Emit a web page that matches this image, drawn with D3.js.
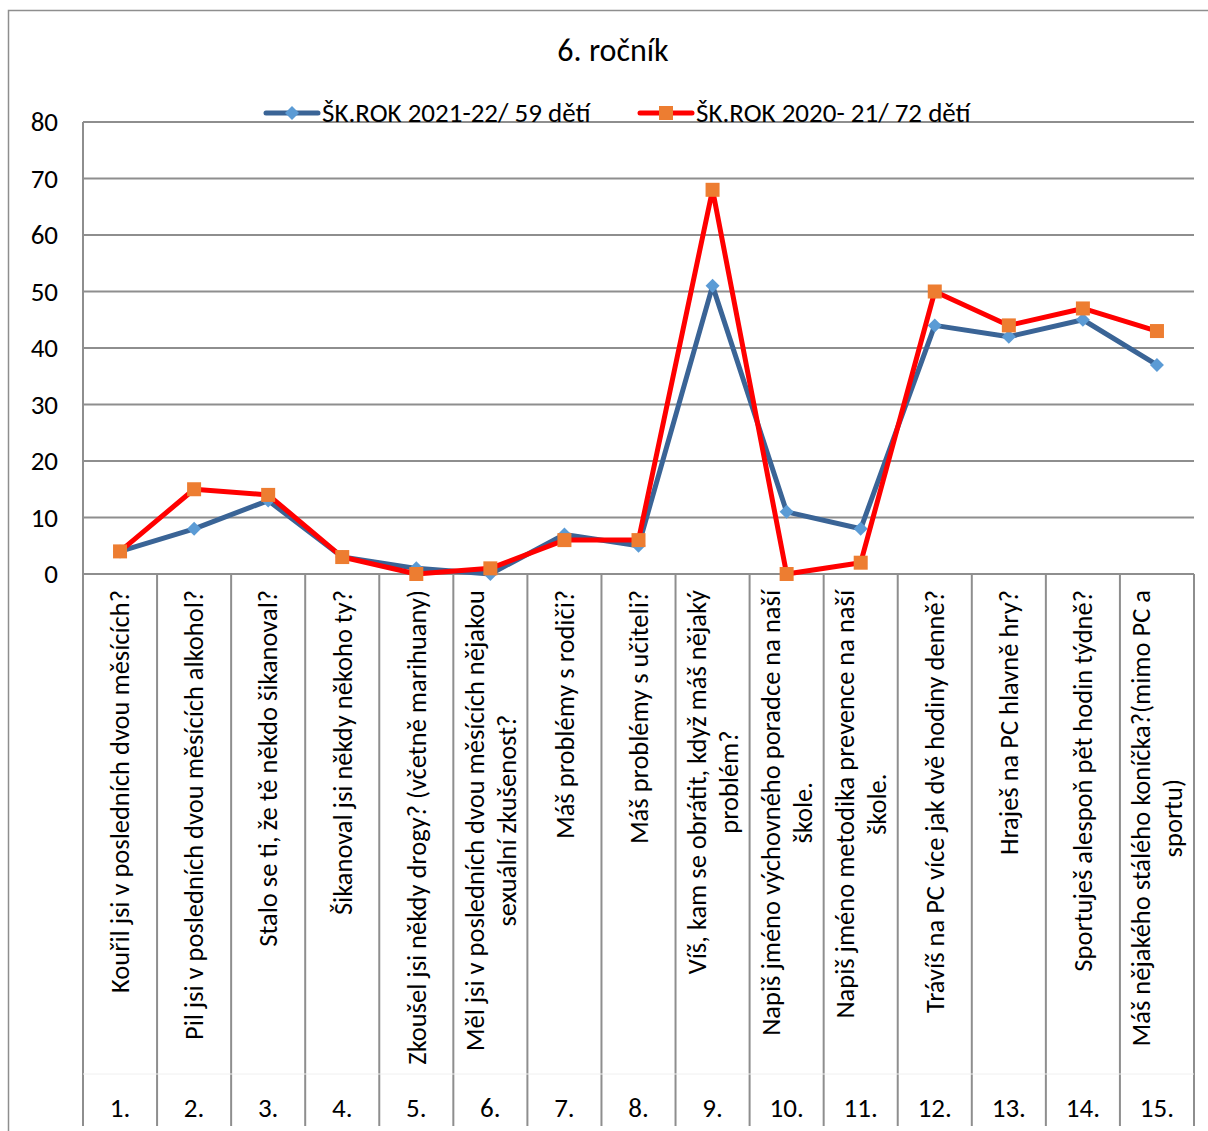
<!DOCTYPE html>
<html>
<head>
<meta charset="utf-8">
<script src="https://cdn.jsdelivr.net/npm/d3@7"></script>
<style>
  body { margin: 0; background: #fff; }
  svg { display: block; font-family: Carlito, Lato, "Open Sans", sans-serif; }
</style>
</head>
<body>
<svg id="chart" width="1208" height="1131"></svg>
<script>
// data
const questions = [
  ["Kouřil jsi v posledních dvou měsících?"],
  ["Pil jsi v posledních dvou měsících alkohol?"],
  ["Stalo se ti, že tě někdo šikanoval?"],
  ["Šikanoval jsi někdy někoho ty?"],
  ["Zkoušel jsi někdy drogy? (včetně marihuany)"],
  ["Měl jsi v posledních dvou měsících nějakou", "sexuální zkušenost?"],
  ["Máš problémy s rodiči?"],
  ["Máš problémy s učiteli?"],
  ["Víš, kam se obrátit, když máš nějaký", "problém?"],
  ["Napiš jméno výchovného poradce na naší", "škole."],
  ["Napiš jméno metodika prevence na naší", "škole."],
  ["Trávíš na PC více jak dvě hodiny denně?"],
  ["Hraješ na PC hlavně hry?"],
  ["Sportuješ alespoň pět hodin týdně?"],
  ["Máš nějakého stálého koníčka?(mimo PC a", "sportu)"]
];
const numbers = ["1.", "2.", "3.", "4.", "5.", "6.", "7.", "8.", "9.", "10.", "11.", "12.", "13.", "14.", "15."];
const rok2122 = [4, 8, 13, 3, 1, 0, 7, 5, 51, 11, 8, 44, 42, 45, 37];
const rok2021 = [4, 15, 14, 3, 0, 1, 6, 6, 68, 0, 2, 50, 44, 47, 43];
const yTicks = [0, 10, 20, 30, 40, 50, 60, 70, 80];
const seriesNames = ["ŠK.ROK 2021-22/ 59 dětí", "ŠK.ROK 2020- 21/ 72 dětí"];

const svg = d3.select("#chart");
const gridColor = "#8e8e8e";

const plotL = 83, plotR = 1194, plotT = 122, plotB = 574, catB = 1126;

const x = d3.scaleBand().domain(d3.range(numbers.length)).range([plotL, plotR]).padding(0);
const y = d3.scaleLinear().domain([0, 80]).range([plotB, plotT]);
const cx = (i) => x(i) + x.bandwidth() / 2;

// outer chart frame (cut off at right/bottom in the picture)
svg.append("path")
  .attr("d", `M8.5,1131 V10.5 H1208`)
  .attr("fill", "none").attr("stroke", gridColor).attr("stroke-width", 1.5);

// title
svg.append("text")
  .attr("x", 613).attr("y", 61)
  .attr("text-anchor", "middle")
  .attr("font-size", 32).attr("fill", "#000")
  .text("6. ročník");

// gridlines
svg.append("g").selectAll("line").data(yTicks).join("line")
  .attr("x1", plotL).attr("x2", plotR)
  .attr("y1", d => y(d)).attr("y2", d => y(d))
  .attr("stroke", gridColor).attr("stroke-width", 2);

// y labels
svg.append("g").selectAll("text").data(yTicks).join("text")
  .attr("x", 58).attr("y", d => y(d))
  .attr("dy", "0.35em")
  .attr("text-anchor", "end")
  .attr("font-size", 27).attr("fill", "#000")
  .text(d => d);

// category separators
svg.append("g").selectAll("line").data(d3.range(numbers.length + 1)).join("line")
  .attr("x1", d => plotL + d * x.bandwidth()).attr("x2", d => plotL + d * x.bandwidth())
  .attr("y1", d => d === 0 ? plotT : plotB).attr("y2", catB)
  .attr("stroke", gridColor).attr("stroke-width", 2);

// faint line between the two label levels
svg.append("line")
  .attr("x1", plotL).attr("x2", plotR).attr("y1", 1074).attr("y2", 1074)
  .attr("stroke", "#f0f0f0").attr("stroke-width", 1);

// question labels, rotated, top aligned
const qg = svg.append("g");
questions.forEach((lines, i) => {
  const g = qg.append("g");
  const texts = lines.map((t, j) => g.append("text")
    .attr("text-anchor", "middle")
    .attr("font-size", 26.5).attr("fill", "#000")
    .text(t));
  const maxLen = d3.max(texts, t => t.node().getComputedTextLength());
  const n = lines.length;
  texts.forEach((t, j) => {
    const off = (j - (n - 1) / 2) * 32;
    t.attr("transform", `translate(${cx(i) + off},${590 + maxLen / 2}) rotate(-90)`)
      .attr("dy", "0.35em");
  });
});

// number labels
svg.append("g").selectAll("text").data(numbers).join("text")
  .attr("x", (d, i) => cx(i)).attr("y", 1108)
  .attr("dy", "0.35em")
  .attr("text-anchor", "middle")
  .attr("font-size", 27).attr("fill", "#000")
  .text(d => d);

// series
const line = d3.line().x((d, i) => cx(i)).y(d => y(d));

svg.append("path").datum(rok2122)
  .attr("d", line).attr("fill", "none")
  .attr("stroke", "#3a6496").attr("stroke-width", 5).attr("stroke-linejoin", "round");
svg.append("g").selectAll("path").data(rok2122).join("path")
  .attr("d", d3.symbol(d3.symbolSquare, 98))
  .attr("transform", (d, i) => `translate(${cx(i)},${y(d)}) rotate(45)`)
  .attr("fill", "#5b9bd5");

svg.append("path").datum(rok2021)
  .attr("d", line).attr("fill", "none")
  .attr("stroke", "#ff0000").attr("stroke-width", 5).attr("stroke-linejoin", "round");
svg.append("g").selectAll("rect").data(rok2021).join("rect")
  .attr("x", (d, i) => cx(i) - 7).attr("y", d => y(d) - 7)
  .attr("width", 14).attr("height", 14)
  .attr("fill", "#ed7d31");

// legend
const legend = [
  { name: seriesNames[0], x: 264, line: "#3a6496", mark: "#5b9bd5", diamond: true },
  { name: seriesNames[1], x: 638, line: "#ff0000", mark: "#ed7d31", diamond: false }
];
legend.forEach(l => {
  const g = svg.append("g").attr("transform", `translate(${l.x},113)`);
  g.append("line").attr("x1", 2).attr("x2", 54).attr("stroke", l.line)
    .attr("stroke-width", 5).attr("stroke-linecap", "round");
  if (l.diamond) {
    g.append("path").attr("d", d3.symbol(d3.symbolSquare, 98))
      .attr("transform", "translate(28,0) rotate(45)").attr("fill", l.mark);
  } else {
    g.append("rect").attr("x", 21).attr("y", -7).attr("width", 14).attr("height", 14).attr("fill", l.mark);
  }
  g.append("text").attr("x", 58).attr("dy", "0.35em")
    .attr("font-size", 27).attr("fill", "#000").text(l.name);
});
</script>
</body>
</html>
